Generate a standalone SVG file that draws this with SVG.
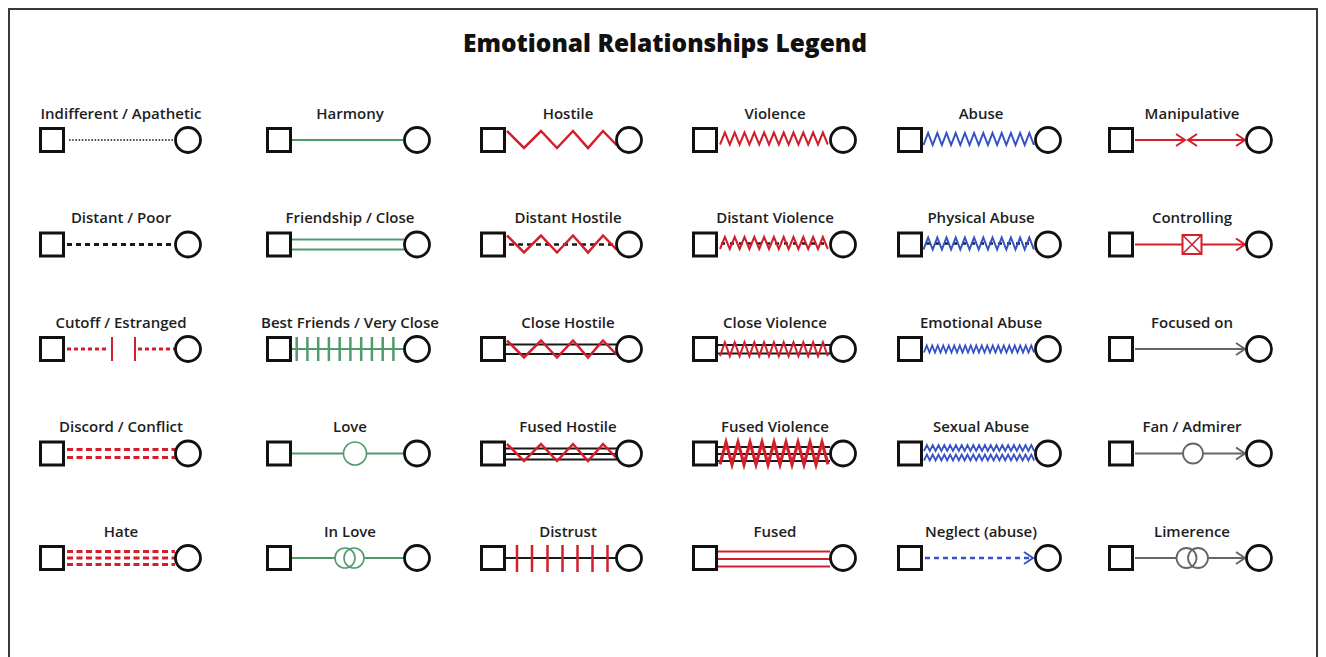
<svg xmlns="http://www.w3.org/2000/svg" xmlns:xlink="http://www.w3.org/1999/xlink" width="1326" height="657" viewBox="0 0 1326 657">
<style>
.lbl{font-family:"Open Sans","DejaVu Sans",sans-serif;font-weight:600;font-size:15px;fill:#1e1e1e;text-anchor:middle}
.title{font-family:"Open Sans","DejaVu Sans",sans-serif;font-weight:800;font-size:24.5px;fill:#111;text-anchor:middle}
.sq{fill:#fff;stroke:#111;stroke-width:3}
.ci{fill:#fff;stroke:#111;stroke-width:2.8}
.red{stroke:#d21f2b;fill:none}
.grn{stroke:#4f9b6c;fill:none}
.blu{stroke:#3452c6;fill:none}
.gry{stroke:#666;fill:none}
.blk{stroke:#1a1a1a;fill:none}
</style>
<defs>
<path id="zh" fill="none" d="M0,-8.5 l17,17 l17,-17 l16,17 l16,-17 l15,17 l15,-17 l14,14.5"/>
<path id="zv" fill="none" d="M0,6 l4.9,-12 l4.9,12 l4.9,-12 l4.9,12 l4.9,-12 l4.9,12 l4.9,-12 l4.9,12 l4.9,-12 l4.9,12 l4.9,-12 l4.9,12 l4.9,-12 l4.9,12 l4.9,-12 l4.9,12 l4.9,-12 l4.9,12 l4.9,-12 l4.9,12 l4.9,-12 l4.9,12"/>
<path id="zc" fill="none" d="M0,7 l4.9,-14 l4.9,14 l4.9,-14 l4.9,14 l4.9,-14 l4.9,14 l4.9,-14 l4.9,14 l4.9,-14 l4.9,14 l4.9,-14 l4.9,14 l4.9,-14 l4.9,14 l4.9,-14 l4.9,14 l4.9,-14 l4.9,14 l4.9,-14 l4.9,14 l4.9,-14 l4.9,14"/>
<path id="zf" fill="none" d="M0,11 l6,-22 l6,22 l6,-22 l6,22 l6,-22 l6,22 l6,-22 l6,22 l6,-22 l6,22 l6,-22 l6,22 l6,-22 l6,22 l6,-22 l6,22 l6,-22 l6,22"/>
<path id="za" fill="none" d="M0,6 l4.6,-12 l4.6,12 l4.6,-12 l4.6,12 l4.6,-12 l4.6,12 l4.6,-12 l4.6,12 l4.6,-12 l4.6,12 l4.6,-12 l4.6,12 l4.6,-12 l4.6,12 l4.6,-12 l4.6,12 l4.6,-12 l4.6,12 l4.6,-12 l4.6,12 l4.6,-12 l4.6,12 l4.6,-12 l4.6,12"/>
<path id="ze" fill="none" d="M0,3.5 l2.75,-7 l2.75,7 l2.75,-7 l2.75,7 l2.75,-7 l2.75,7 l2.75,-7 l2.75,7 l2.75,-7 l2.75,7 l2.75,-7 l2.75,7 l2.75,-7 l2.75,7 l2.75,-7 l2.75,7 l2.75,-7 l2.75,7 l2.75,-7 l2.75,7 l2.75,-7 l2.75,7 l2.75,-7 l2.75,7 l2.75,-7 l2.75,7 l2.75,-7 l2.75,7 l2.75,-7 l2.75,7 l2.75,-7 l2.75,7 l2.75,-7 l2.75,7 l2.75,-7 l2.75,7 l2.75,-7 l2.75,7 l2.75,-7 l2.75,7"/>
<path id="zs" fill="none" d="M0,3 l2.9,-6 l2.9,6 l2.9,-6 l2.9,6 l2.9,-6 l2.9,6 l2.9,-6 l2.9,6 l2.9,-6 l2.9,6 l2.9,-6 l2.9,6 l2.9,-6 l2.9,6 l2.9,-6 l2.9,6 l2.9,-6 l2.9,6 l2.9,-6 l2.9,6 l2.9,-6 l2.9,6 l2.9,-6 l2.9,6 l2.9,-6 l2.9,6 l2.9,-6 l2.9,6 l2.9,-6 l2.9,6 l2.9,-6 l2.9,6 l2.9,-6 l2.9,6 l2.9,-6 l2.9,6 l2.9,-6 l2.9,6"/>
<marker id="arR" viewBox="-1 -1 12 14" refX="9" refY="6" markerWidth="12" markerHeight="14" markerUnits="userSpaceOnUse" orient="auto-start-reverse"><path d="M0,0 L9,6 L0,12" fill="none" stroke="#d21f2b" stroke-width="2"/></marker>
<marker id="arG" viewBox="-1 -1 12 14" refX="9" refY="6" markerWidth="12" markerHeight="14" markerUnits="userSpaceOnUse" orient="auto-start-reverse"><path d="M0,0 L9,6 L0,12" fill="none" stroke="#666" stroke-width="2"/></marker>
<marker id="arB" viewBox="-1 -1 12 14" refX="9" refY="6" markerWidth="12" markerHeight="14" markerUnits="userSpaceOnUse" orient="auto-start-reverse"><path d="M0,0 L9,6 L0,12" fill="none" stroke="#3452c6" stroke-width="2"/></marker>
</defs>
<rect x="0" y="0" width="1326" height="657" fill="#fff"/>
<rect x="9" y="9" width="1308" height="670" fill="none" stroke="#3a3a3a" stroke-width="2"/>
<text class="title" x="665" y="52">Emotional Relationships Legend</text>

<g id="connectors">
<!-- column 1 -->
<line class="blk" x1="69" y1="140" x2="173" y2="140" stroke-width="1.3" stroke-dasharray="1.6 1.6"/>
<line class="blk" x1="67" y1="244.5" x2="175" y2="244.5" stroke-width="2.8" stroke-dasharray="5 4"/>
<line class="red" x1="67" y1="349" x2="107" y2="349" stroke-width="2.8" stroke-dasharray="4 3"/>
<line class="red" x1="112" y1="337" x2="112" y2="361" stroke-width="2"/>
<line class="red" x1="135" y1="337" x2="135" y2="361" stroke-width="2"/>
<line class="red" x1="138" y1="349" x2="175" y2="349" stroke-width="2.8" stroke-dasharray="4 3"/>
<line class="red" x1="67" y1="449.5" x2="175" y2="449.5" stroke-width="3.2" stroke-dasharray="6 3.5"/>
<line class="red" x1="67" y1="457.5" x2="175" y2="457.5" stroke-width="3.2" stroke-dasharray="6 3.5"/>
<line class="red" x1="67" y1="551.5" x2="175" y2="551.5" stroke-width="3.2" stroke-dasharray="6 3.5"/>
<line class="red" x1="67" y1="558" x2="175" y2="558" stroke-width="3.2" stroke-dasharray="6 3.5"/>
<line class="red" x1="67" y1="564.5" x2="175" y2="564.5" stroke-width="3.2" stroke-dasharray="6 3.5"/>
<!-- column 2 -->
<line class="grn" x1="292" y1="140" x2="404" y2="140" stroke-width="2"/>
<line class="grn" x1="292" y1="239.5" x2="404" y2="239.5" stroke-width="2"/>
<line class="grn" x1="292" y1="249.5" x2="404" y2="249.5" stroke-width="2"/>
<line class="grn" x1="292" y1="349" x2="404" y2="349" stroke-width="2"/>
<path class="grn" stroke-width="2.5" d="M296.7,337V361 M307.4,337V361 M318.2,337V361 M328.9,337V361 M339.7,337V361 M350.4,337V361 M361.2,337V361 M371.9,337V361 M382.7,337V361 M393.4,337V361"/>
<line class="grn" x1="292" y1="453.5" x2="343.5" y2="453.5" stroke-width="2"/>
<circle class="grn" cx="355" cy="453.5" r="11.5" stroke-width="1.6"/>
<line class="grn" x1="366.5" y1="453.5" x2="404" y2="453.5" stroke-width="2"/>
<line class="grn" x1="292" y1="558" x2="335" y2="558" stroke-width="2"/>
<circle class="grn" cx="345" cy="558" r="10" stroke-width="1.6"/>
<circle class="grn" cx="354" cy="558" r="10" stroke-width="1.6"/>
<line class="grn" x1="364" y1="558" x2="404" y2="558" stroke-width="2"/>
<!-- column 3 -->
<use href="#zh" x="507" y="139.5" class="red" stroke-width="2.5"/>
<line class="blk" x1="509" y1="244.5" x2="614" y2="244.5" stroke-width="2.6" stroke-dasharray="5 4"/>
<use href="#zh" x="507" y="244" class="red" stroke-width="2.5"/>
<line class="blk" x1="506" y1="344.5" x2="616" y2="344.5" stroke-width="2"/>
<line class="blk" x1="506" y1="354" x2="616" y2="354" stroke-width="2"/>
<use href="#zh" x="507" y="349" class="red" stroke-width="2.5"/>
<line class="blk" x1="506" y1="448.5" x2="617" y2="448.5" stroke-width="2"/>
<line class="blk" x1="506" y1="454" x2="617" y2="454" stroke-width="2"/>
<line class="blk" x1="506" y1="459.5" x2="617" y2="459.5" stroke-width="2"/>
<use href="#zh" x="507" y="452.5" class="red" stroke-width="2.5"/>
<line class="blk" x1="506" y1="558" x2="616" y2="558" stroke-width="2"/>
<path class="red" stroke-width="2.5" d="M517,545V572 M532,545V572 M547.5,545V572 M562.5,545V572 M577.5,545V572 M592.5,545V572 M607.5,545V572"/>
<!-- column 4 -->
<use href="#zv" x="720" y="138.5" class="red" stroke-width="2"/>
<line class="blk" x1="721" y1="243.5" x2="826" y2="243.5" stroke-width="2.6" stroke-dasharray="4 5"/>
<use href="#zv" x="720" y="243" class="red" stroke-width="2"/>
<line class="blk" x1="718" y1="345" x2="830" y2="345" stroke-width="2"/>
<line class="blk" x1="718" y1="353.5" x2="830" y2="353.5" stroke-width="2"/>
<use href="#zc" x="720" y="349.2" class="red" stroke-width="2"/>
<line class="blk" x1="718" y1="447" x2="830" y2="447" stroke-width="2"/>
<line class="blk" x1="718" y1="454" x2="830" y2="454" stroke-width="2"/>
<line class="blk" x1="718" y1="461" x2="830" y2="461" stroke-width="2"/>
<use href="#zf" x="720" y="453.4" class="red" stroke-width="3.2"/>
<line class="red" x1="718" y1="551.5" x2="830" y2="551.5" stroke-width="2"/>
<line class="red" x1="718" y1="559" x2="830" y2="559" stroke-width="2"/>
<line class="red" x1="718" y1="566.5" x2="830" y2="566.5" stroke-width="2"/>
<!-- column 5 -->
<use href="#za" x="923.5" y="139" class="blu" stroke-width="2"/>
<line class="blk" x1="926" y1="243.5" x2="1030" y2="243.5" stroke-width="2.6" stroke-dasharray="4 5"/>
<use href="#za" x="923.5" y="243.5" class="blu" stroke-width="2"/>
<use href="#ze" x="924" y="349" class="blu" stroke-width="1.8"/>
<use href="#zs" x="924" y="448" class="blu" stroke-width="1.8"/>
<use href="#zs" x="924" y="457.5" class="blu" stroke-width="1.8"/>
<line class="blu" x1="925" y1="558" x2="1033" y2="558" stroke-width="2.5" stroke-dasharray="5 4" marker-end="url(#arB)"/>
<!-- column 6 -->
<line class="red" x1="1135" y1="140" x2="1185" y2="140" stroke-width="2" marker-end="url(#arR)"/>
<line class="red" x1="1188" y1="140" x2="1245" y2="140" stroke-width="2" marker-start="url(#arR)" marker-end="url(#arR)"/>
<line class="red" x1="1135" y1="244.5" x2="1182" y2="244.5" stroke-width="2"/>
<rect class="red" x="1182.5" y="235" width="19" height="19" stroke-width="2"/>
<path class="red" stroke-width="1.6" d="M1182.5,235 L1201.5,254 M1201.5,235 L1182.5,254"/>
<line class="red" x1="1201.5" y1="244.5" x2="1245" y2="244.5" stroke-width="2" marker-end="url(#arR)"/>
<line class="gry" x1="1135" y1="349" x2="1245" y2="349" stroke-width="2" marker-end="url(#arG)"/>
<line class="gry" x1="1135" y1="453.5" x2="1183" y2="453.5" stroke-width="2"/>
<circle class="gry" cx="1193" cy="453.5" r="10" stroke-width="1.8"/>
<line class="gry" x1="1203" y1="453.5" x2="1245" y2="453.5" stroke-width="2" marker-end="url(#arG)"/>
<line class="gry" x1="1135" y1="558" x2="1176.5" y2="558" stroke-width="2"/>
<circle class="gry" cx="1186.5" cy="558" r="10" stroke-width="1.8"/>
<circle class="gry" cx="1198" cy="558" r="10" stroke-width="1.8"/>
<line class="gry" x1="1208" y1="558" x2="1245" y2="558" stroke-width="2" marker-end="url(#arG)"/>
</g>

<!-- column 1 -->
<g id="indifferent"><text class="lbl" x="121" y="118.5">Indifferent / Apathetic</text><rect class="sq" x="40.5" y="128.5" width="23" height="23"/><circle class="ci" cx="188" cy="140" r="12.5"/></g>
<g id="distant-poor"><text class="lbl" x="121" y="223">Distant / Poor</text><rect class="sq" x="40.5" y="233" width="23" height="23"/><circle class="ci" cx="188" cy="244.5" r="12.5"/></g>
<g id="cutoff"><text class="lbl" x="121" y="327.5">Cutoff / Estranged</text><rect class="sq" x="40.5" y="337.5" width="23" height="23"/><circle class="ci" cx="188" cy="349" r="12.5"/></g>
<g id="discord"><text class="lbl" x="121" y="432">Discord / Conflict</text><rect class="sq" x="40.5" y="442" width="23" height="23"/><circle class="ci" cx="188" cy="453.5" r="12.5"/></g>
<g id="hate"><text class="lbl" x="121" y="536.5">Hate</text><rect class="sq" x="40.5" y="546.5" width="23" height="23"/><circle class="ci" cx="188" cy="558" r="12.5"/></g>
<!-- column 2 -->
<g id="harmony"><text class="lbl" x="350" y="118.5">Harmony</text><rect class="sq" x="267.5" y="128.5" width="23" height="23"/><circle class="ci" cx="417" cy="140" r="12.5"/></g>
<g id="friendship"><text class="lbl" x="350" y="223">Friendship / Close</text><rect class="sq" x="267.5" y="233" width="23" height="23"/><circle class="ci" cx="417" cy="244.5" r="12.5"/></g>
<g id="best-friends"><text class="lbl" x="350" y="327.5">Best Friends / Very Close</text><rect class="sq" x="267.5" y="337.5" width="23" height="23"/><circle class="ci" cx="417" cy="349" r="12.5"/></g>
<g id="love"><text class="lbl" x="350" y="432">Love</text><rect class="sq" x="267.5" y="442" width="23" height="23"/><circle class="ci" cx="417" cy="453.5" r="12.5"/></g>
<g id="in-love"><text class="lbl" x="350" y="536.5">In Love</text><rect class="sq" x="267.5" y="546.5" width="23" height="23"/><circle class="ci" cx="417" cy="558" r="12.5"/></g>
<!-- column 3 -->
<g id="hostile"><text class="lbl" x="568" y="118.5">Hostile</text><rect class="sq" x="481.5" y="128.5" width="23" height="23"/><circle class="ci" cx="629" cy="140" r="12.5"/></g>
<g id="distant-hostile"><text class="lbl" x="568" y="223">Distant Hostile</text><rect class="sq" x="481.5" y="233" width="23" height="23"/><circle class="ci" cx="629" cy="244.5" r="12.5"/></g>
<g id="close-hostile"><text class="lbl" x="568" y="327.5">Close Hostile</text><rect class="sq" x="481.5" y="337.5" width="23" height="23"/><circle class="ci" cx="629" cy="349" r="12.5"/></g>
<g id="fused-hostile"><text class="lbl" x="568" y="432">Fused Hostile</text><rect class="sq" x="481.5" y="442" width="23" height="23"/><circle class="ci" cx="629" cy="453.5" r="12.5"/></g>
<g id="distrust"><text class="lbl" x="568" y="536.5">Distrust</text><rect class="sq" x="481.5" y="546.5" width="23" height="23"/><circle class="ci" cx="629" cy="558" r="12.5"/></g>
<!-- column 4 -->
<g id="violence"><text class="lbl" x="775" y="118.5">Violence</text><rect class="sq" x="693.5" y="128.5" width="23" height="23"/><circle class="ci" cx="843" cy="140" r="12.5"/></g>
<g id="distant-violence"><text class="lbl" x="775" y="223">Distant Violence</text><rect class="sq" x="693.5" y="233" width="23" height="23"/><circle class="ci" cx="843" cy="244.5" r="12.5"/></g>
<g id="close-violence"><text class="lbl" x="775" y="327.5">Close Violence</text><rect class="sq" x="693.5" y="337.5" width="23" height="23"/><circle class="ci" cx="843" cy="349" r="12.5"/></g>
<g id="fused-violence"><text class="lbl" x="775" y="432">Fused Violence</text><rect class="sq" x="693.5" y="442" width="23" height="23"/><circle class="ci" cx="843" cy="453.5" r="12.5"/></g>
<g id="fused"><text class="lbl" x="775" y="536.5">Fused</text><rect class="sq" x="693.5" y="546.5" width="23" height="23"/><circle class="ci" cx="843" cy="558" r="12.5"/></g>
<!-- column 5 -->
<g id="abuse"><text class="lbl" x="981" y="118.5">Abuse</text><rect class="sq" x="898.5" y="128.5" width="23" height="23"/><circle class="ci" cx="1048" cy="140" r="12.5"/></g>
<g id="physical-abuse"><text class="lbl" x="981" y="223">Physical Abuse</text><rect class="sq" x="898.5" y="233" width="23" height="23"/><circle class="ci" cx="1048" cy="244.5" r="12.5"/></g>
<g id="emotional-abuse"><text class="lbl" x="981" y="327.5">Emotional Abuse</text><rect class="sq" x="898.5" y="337.5" width="23" height="23"/><circle class="ci" cx="1048" cy="349" r="12.5"/></g>
<g id="sexual-abuse"><text class="lbl" x="981" y="432">Sexual Abuse</text><rect class="sq" x="898.5" y="442" width="23" height="23"/><circle class="ci" cx="1048" cy="453.5" r="12.5"/></g>
<g id="neglect"><text class="lbl" x="981" y="536.5">Neglect (abuse)</text><rect class="sq" x="898.5" y="546.5" width="23" height="23"/><circle class="ci" cx="1048" cy="558" r="12.5"/></g>
<!-- column 6 -->
<g id="manipulative"><text class="lbl" x="1192" y="118.5">Manipulative</text><rect class="sq" x="1109.5" y="128.5" width="23" height="23"/><circle class="ci" cx="1259" cy="140" r="12.5"/></g>
<g id="controlling"><text class="lbl" x="1192" y="223">Controlling</text><rect class="sq" x="1109.5" y="233" width="23" height="23"/><circle class="ci" cx="1259" cy="244.5" r="12.5"/></g>
<g id="focused-on"><text class="lbl" x="1192" y="327.5">Focused on</text><rect class="sq" x="1109.5" y="337.5" width="23" height="23"/><circle class="ci" cx="1259" cy="349" r="12.5"/></g>
<g id="fan-admirer"><text class="lbl" x="1192" y="432">Fan / Admirer</text><rect class="sq" x="1109.5" y="442" width="23" height="23"/><circle class="ci" cx="1259" cy="453.5" r="12.5"/></g>
<g id="limerence"><text class="lbl" x="1192" y="536.5">Limerence</text><rect class="sq" x="1109.5" y="546.5" width="23" height="23"/><circle class="ci" cx="1259" cy="558" r="12.5"/></g>
</svg>
